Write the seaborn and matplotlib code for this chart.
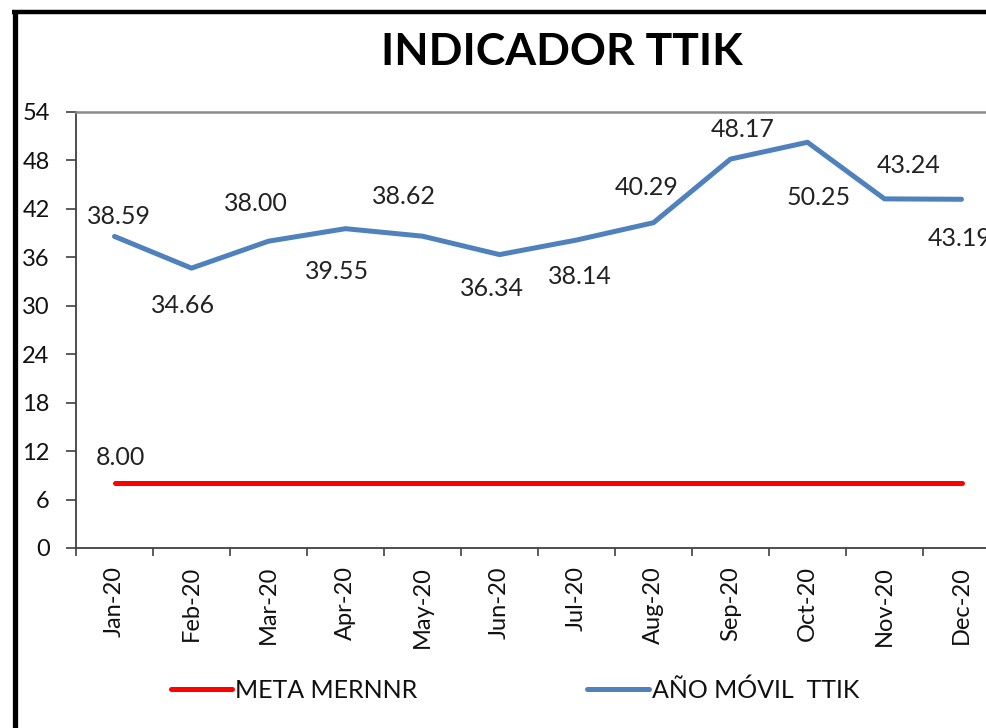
import matplotlib
matplotlib.use("Agg")
import matplotlib.pyplot as plt
import seaborn as sns
import pandas as pd
from matplotlib.lines import Line2D

months = ["Jan-20", "Feb-20", "Mar-20", "Apr-20", "May-20", "Jun-20",
          "Jul-20", "Aug-20", "Sep-20", "Oct-20", "Nov-20", "Dec-20"]
ttik = [38.59, 34.66, 38.00, 39.55, 38.62, 36.34, 38.14, 40.29, 48.17, 50.25, 43.24, 43.19]
meta = [8.00] * 12
series_names = ["META MERNNR", "AÑO MÓVIL  TTIK"]
title = "INDICADOR TTIK"

# label offsets in pixels (style only)
lab_dx = [4, -8, -13, -8, -19, -8, 3, -7, 12, 11, 24, -2]
lab_dy = [20, -37, 38, -43, 40, -34, -36, 35, 30, -55, 33, -39]

sns.set_theme(style="white")
FONT = "Lato"
plt.rcParams["font.family"] = [FONT, "DejaVu Sans"]

df = pd.DataFrame({
    "month": months * 2,
    "value": meta + ttik,
    "serie": [series_names[0]] * 12 + [series_names[1]] * 12,
})
df["x"] = list(range(12)) * 2

W, H = 986, 728
fig = plt.figure(figsize=(W / 100, H / 100), dpi=100)
ax = fig.add_axes([76 / W, 1 - 548 / H, (1000 - 76) / W, (548 - 112) / H])

sns.lineplot(data=df, x="x", y="value", hue="serie",
             palette={series_names[0]: "#FF0000", series_names[1]: "#4F81BD"},
             linewidth=3.6, ax=ax, legend=False, solid_capstyle="round")

ax.set_xlim(-0.5, 11.5)
ax.set_ylim(0, 54)
ax.set_yticks(range(0, 55, 6))
ax.set_xticks(range(12))
ax.set_xticklabels(months, rotation=90)
ax.set_xticks([i - 0.5 for i in range(13)], minor=True)
ax.tick_params(axis="x", which="major", length=0, pad=13, labelsize=17, labelcolor="#111111")
ax.tick_params(axis="x", which="minor", length=6, width=1.2, color="#404040", direction="out", bottom=True)
ax.tick_params(axis="y", which="major", length=7, width=1.2, color="#404040", direction="out", left=True,
               pad=12, labelsize=17, labelcolor="#111111")
ax.set_xlabel("")
ax.set_ylabel("")

for s in ["left", "bottom"]:
    ax.spines[s].set_color("#404040")
    ax.spines[s].set_linewidth(1.3)
ax.spines["top"].set_color("#8a8a8a")
ax.spines["top"].set_linewidth(1.8)
ax.spines["right"].set_visible(False)

# data labels
for i, v in enumerate(ttik):
    ax.annotate(f"{v:.2f}", (i, v), xytext=(lab_dx[i], lab_dy[i]), textcoords="offset pixels",
                ha="center", va="center", fontsize=18, color="#222222")
ax.annotate(f"{meta[0]:.2f}", (0, meta[0]), xytext=(6, 26), textcoords="offset pixels",
            ha="center", va="center", fontsize=18, color="#222222")

fig.text(562 / W, 1 - 52 / H, title, ha="center", va="center", fontsize=32,
         fontweight="bold", color="#000000")

handles = [Line2D([0], [0], color="#FF0000", lw=3.6, solid_capstyle="round"),
           Line2D([0], [0], color="#4F81BD", lw=3.6, solid_capstyle="round")]
fig.legend(handles, series_names, loc="center", bbox_to_anchor=(515 / W, 1 - 690 / H), ncol=2,
           frameon=False, fontsize=18, handlelength=2.45, handletextpad=0.12, columnspacing=6.8,
           labelcolor="#111111")

# outer black border (left and top)
fig.add_artist(Line2D([14.5 / W, 14.5 / W], [0, 1 - 10 / H], color="black", lw=3.8,
                      transform=fig.transFigure, solid_capstyle="butt"))
fig.add_artist(Line2D([12 / W, 1], [1 - 12 / H, 1 - 12 / H], color="black", lw=3.2,
                      transform=fig.transFigure, solid_capstyle="butt"))

fig.savefig("out.png", dpi=100)
